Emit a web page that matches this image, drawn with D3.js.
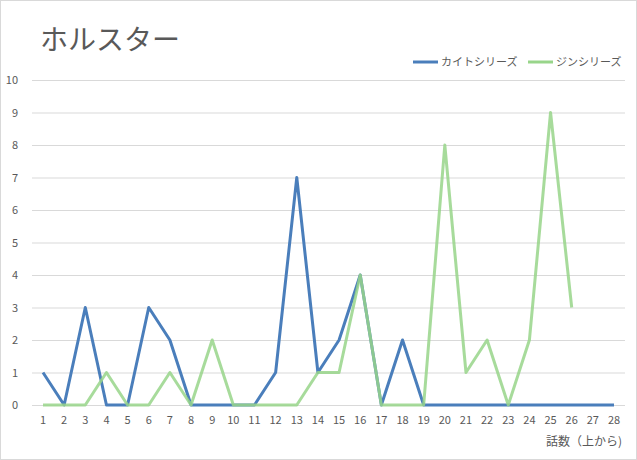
<!DOCTYPE html>
<meta charset="utf-8">
<style>
    body { margin: 0; background: #fff; }
    text { font-family: "Noto Sans CJK JP", sans-serif; fill: #595959; }
    .grid line { stroke: #d9d9d9; }
</style>
<svg width="637" height="460"></svg>
<script src="https://d3js.org/d3.v7.min.js"></script>
<script>
    var episodes = d3.range(1, 29);
    var yTicks = d3.range(0, 11);
    var kaito = [1,0,3,0,0,3,2,0,0,0,0,1,7,1,2,4,0,2,0,0,0,0,0,0,0,0,0,0];
    var jin = [0,0,0,1,0,0,1,0,2,0,0,0,0,1,1,4,0,0,0,8,1,2,0,2,9,3];
    var seriesNames = ["カイトシリーズ", "ジンシリーズ"];
    var colors = ["#4a7ebb", "#98d58a"];

    var svg = d3.select("svg");
    svg.append("rect").attr("x", 0.5).attr("y", 0.5).attr("width", 636).attr("height", 459)
        .attr("fill", "#fff").attr("stroke", "#d9d9d9");

    var x = d3.scalePoint().domain(episodes).range([43, 614]);
    var y = d3.scaleLinear().domain([0, 10]).range([405, 80]);

    // grid
    svg.append("g").attr("class", "grid")
        .selectAll("line").data(yTicks).enter().append("line")
        .attr("x1", 32).attr("x2", 625)
        .attr("y1", function (d) { return y(d) + 0.5; })
        .attr("y2", function (d) { return y(d) + 0.5; });

    svg.append("g").selectAll("text").data(yTicks).enter().append("text")
        .attr("x", 18).attr("y", function (d) { return y(d) + 4; })
        .attr("text-anchor", "end").style("font-size", "11px")
        .text(function (d) { return d; });

    svg.append("g").selectAll("text").data(episodes).enter().append("text")
        .attr("x", function (d) { return x(d); }).attr("y", 424)
        .attr("text-anchor", "middle").style("font-size", "11px")
        .text(function (d) { return d; });

    var line = d3.line()
        .x(function (d, i) { return x(episodes[i]); })
        .y(function (d) { return y(d); });

    svg.append("path").datum(kaito).attr("d", line).attr("fill", "none")
        .attr("stroke", colors[0]).attr("stroke-width", 3).attr("stroke-linejoin", "round");
    svg.append("path").datum(jin).attr("d", line).attr("fill", "none")
        .attr("stroke", colors[1]).attr("stroke-width", 3).attr("stroke-linejoin", "round")
        .attr("opacity", 0.85);

    svg.append("text").attr("x", 40).attr("y", 50).style("font-size", "28px").text("ホルスター");
    svg.append("text").attr("x", 622).attr("y", 446).attr("text-anchor", "end")
        .style("font-size", "12px").text("話数（上から)");

    // legend
    var lg = svg.append("g").selectAll("g").data(seriesNames).enter().append("g")
        .attr("transform", function (d, i) { return "translate(" + (413 + i * 115) + ",62)"; });
    lg.append("line").attr("x1", 0).attr("x2", 25)
        .attr("stroke", function (d, i) { return colors[i]; }).attr("stroke-width", 3);
    lg.append("text").attr("x", 28).attr("y", 4).style("font-size", "11px")
        .text(function (d) { return d; });
</script>
